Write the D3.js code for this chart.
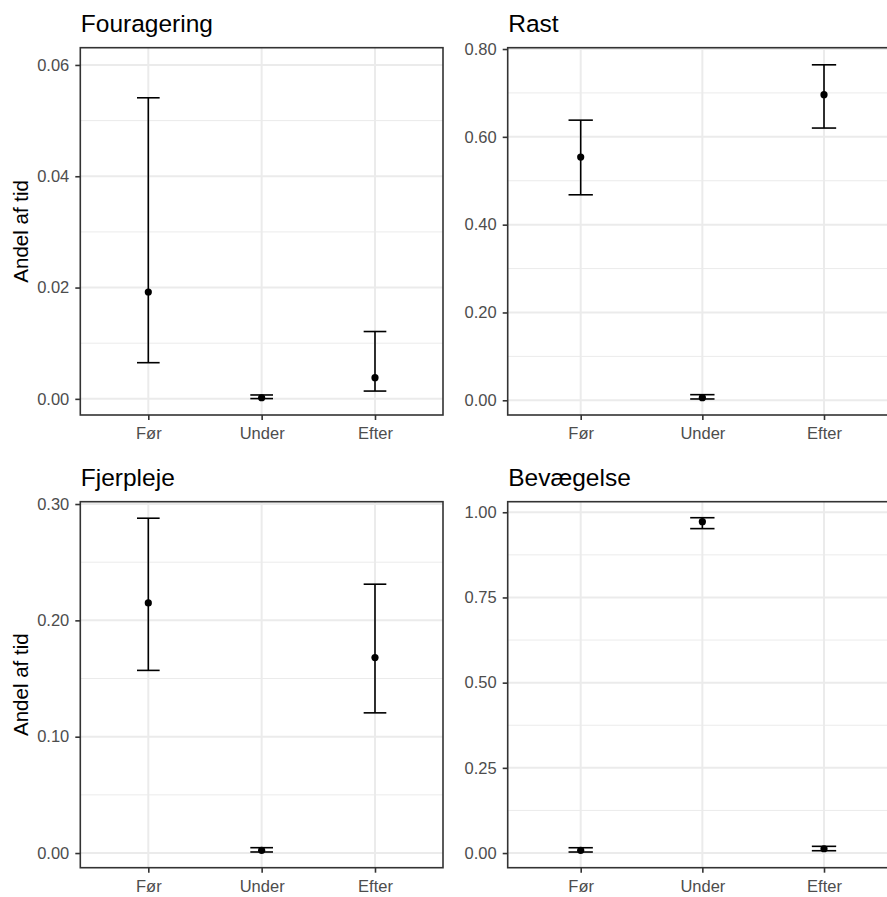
<!DOCTYPE html>
<html>
<head>
<meta charset="utf-8">
<script src="https://cdn.jsdelivr.net/npm/d3@7"></script>
<style>
  body { margin: 0; background: #fff; }
  svg { display: block; font-family: "Liberation Sans", Arial, sans-serif; }
</style>
</head>
<body>
<svg id="chart"></svg>
<script>
// Data: one entry per panel
const categories = ["Før", "Under", "Efter"];
const panelTitles = ["Fouragering", "Rast", "Fjerpleje", "Bevægelse"];
const meanValues  = [[0.0192, 0.0002, 0.0038], [0.554, 0.006, 0.696], [0.215, 0.0023, 0.168], [0.008, 0.9725, 0.0126]];
const lowerValues = [[0.0065, 0.00005, 0.0014], [0.468, 0.003, 0.620], [0.157, 0.0009, 0.1205], [0.003, 0.952, 0.0068]];
const upperValues = [[0.0541, 0.0007, 0.0121], [0.638, 0.0128, 0.764], [0.2878, 0.0046, 0.2311], [0.0156, 0.984, 0.0197]];
const yLimits = [[-0.0029, 0.0631], [-0.0335, 0.803], [-0.0126, 0.302], [-0.043, 1.031]];
const yTicks = [[0, 0.02, 0.04, 0.06], [0, 0.2, 0.4, 0.6, 0.8], [0, 0.1, 0.2, 0.3], [0, 0.25, 0.5, 0.75, 1]];
const yTitle = "Andel af tid";

const W = 887, H = 897;
// panel boxes (left/right per column, top/bottom per row)
const colX = [[80.3, 443], [507.7, 897]];
const rowY = [[47.7, 415], [501.7, 867.7]];

const svg = d3.select("#chart").attr("width", W).attr("height", H);
const fmt = d3.format(".2f");

panelTitles.forEach((title, i) => {
  const col = i % 2, row = Math.floor(i / 2);
  const [x0, x1] = colX[col], [y0, y1] = rowY[row];

  const x = d3.scalePoint().domain(categories).range([x0, x1]).padding(0.6);
  const y = d3.scaleLinear().domain(yLimits[i]).range([y1, y0]);
  const rows = categories.map((c, k) => ({ cat: c, mean: meanValues[i][k], lo: lowerValues[i][k], hi: upperValues[i][k] }));

  const g = svg.append("g");

  // panel background + grid
  g.append("rect").attr("x", x0).attr("y", y0).attr("width", x1 - x0).attr("height", y1 - y0).attr("fill", "#fff");
  const minor = d3.pairs(yTicks[i]).map(([a, b]) => (a + b) / 2);
  g.selectAll(".minor").data(minor).enter().append("line")
    .attr("x1", x0).attr("x2", x1).attr("y1", d => y(d)).attr("y2", d => y(d))
    .attr("stroke", "#ebebeb").attr("stroke-width", 1);
  g.selectAll(".majorY").data(yTicks[i]).enter().append("line")
    .attr("x1", x0).attr("x2", x1).attr("y1", d => y(d)).attr("y2", d => y(d))
    .attr("stroke", "#ebebeb").attr("stroke-width", 2);
  g.selectAll(".majorX").data(categories).enter().append("line")
    .attr("x1", d => x(d)).attr("x2", d => x(d)).attr("y1", y0).attr("y2", y1)
    .attr("stroke", "#ebebeb").attr("stroke-width", 2);

  // error bars
  const cap = x.step() * 0.1;
  const eb = g.selectAll(".eb").data(rows).enter().append("g").attr("stroke", "#000").attr("stroke-width", 1.6);
  eb.append("line").attr("x1", d => x(d.cat)).attr("x2", d => x(d.cat)).attr("y1", d => y(d.lo)).attr("y2", d => y(d.hi));
  eb.append("line").attr("x1", d => x(d.cat) - cap).attr("x2", d => x(d.cat) + cap).attr("y1", d => y(d.hi)).attr("y2", d => y(d.hi));
  eb.append("line").attr("x1", d => x(d.cat) - cap).attr("x2", d => x(d.cat) + cap).attr("y1", d => y(d.lo)).attr("y2", d => y(d.lo));

  // points
  g.selectAll(".pt").data(rows).enter().append("circle")
    .attr("cx", d => x(d.cat)).attr("cy", d => y(d.mean)).attr("r", 3.6).attr("fill", "#000");

  // panel border
  g.append("rect").attr("x", x0).attr("y", y0).attr("width", x1 - x0).attr("height", y1 - y0)
    .attr("fill", "none").attr("stroke", "#333").attr("stroke-width", 1.6);

  // axes
  const yAxis = g.append("g").attr("transform", `translate(${x0},0)`)
    .call(d3.axisLeft(y).tickValues(yTicks[i]).tickFormat(fmt).tickSize(5).tickPadding(6));
  const xAxis = g.append("g").attr("transform", `translate(0,${y1})`)
    .call(d3.axisBottom(x).tickSize(5).tickPadding(7.5));
  [yAxis, xAxis].forEach(a => {
    a.select(".domain").remove();
    a.selectAll("line").attr("stroke", "#333").attr("stroke-width", 1.6);
    a.selectAll("text").attr("fill", "#4d4d4d").style("font-size", "16.5px")
      .style("font-family", '"Liberation Sans", Arial, sans-serif');
  });

  // panel title
  g.append("text").attr("x", x0 + 0.5).attr("y", y0 - 15.6)
    .style("font-size", "24.5px").attr("fill", "#000").text(title);

  // y-axis title on the left column only
  if (col === 0) {
    g.append("text")
      .attr("transform", `translate(28,${(y0 + y1) / 2}) rotate(-90)`)
      .attr("text-anchor", "middle").style("font-size", "20.5px").attr("fill", "#000")
      .text(yTitle);
  }
});
</script>
</body>
</html>
